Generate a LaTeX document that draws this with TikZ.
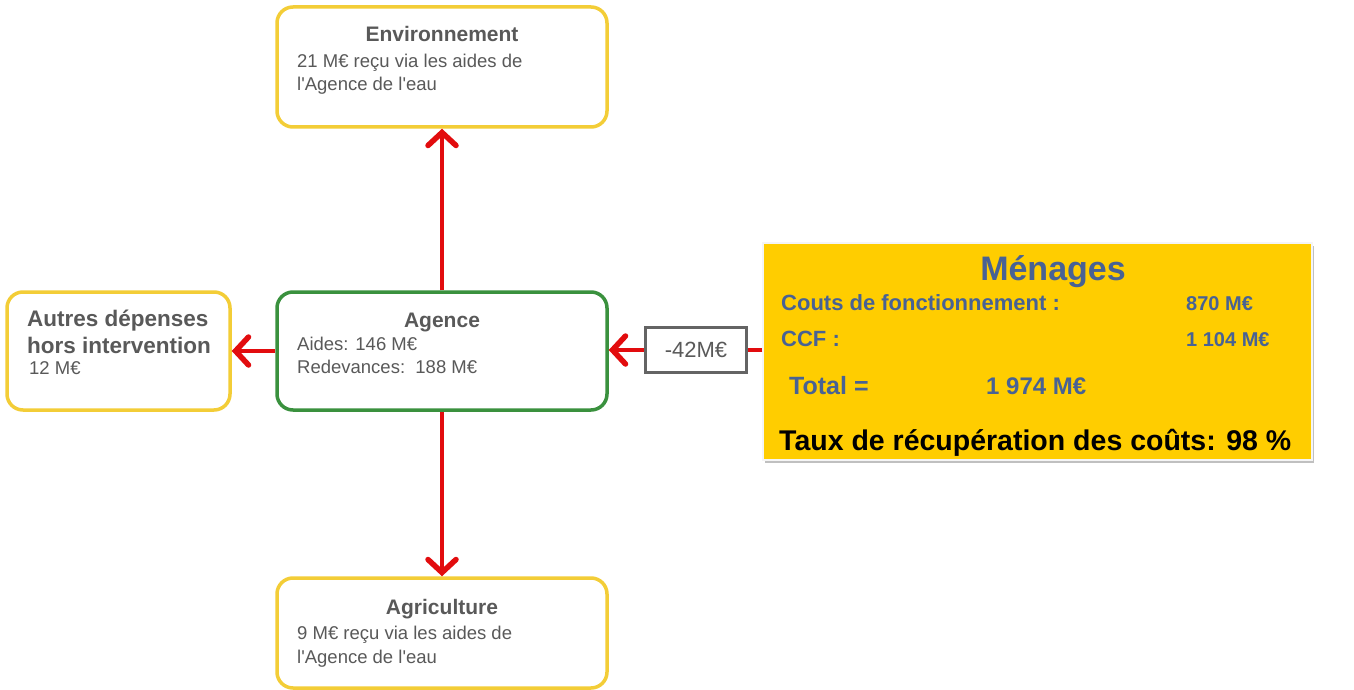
\documentclass[tikz,border=0pt]{standalone}
\usepackage{fontspec}
\setmainfont{Liberation Sans}
\usetikzlibrary{arrows.meta,shadows}

\definecolor{boxyellow}{RGB}{243,205,55}
\definecolor{boxgreen}{RGB}{58,145,62}
\definecolor{txtgray}{RGB}{89,89,89}
\definecolor{arrowred}{RGB}{226,12,14}
\definecolor{panelgold}{RGB}{255,205,0}
\definecolor{panelblue}{RGB}{72,98,148}
\definecolor{tagframe}{RGB}{100,100,100}

\newcommand\fsz[1]{\fontsize{#1}{#1}\selectfont}
\newcommand\apos{\textquotesingle}

\begin{document}
\begin{tikzpicture}[x=1pt,y=-1pt,
  card/.style={draw=boxyellow, line width=3.5pt, rounded corners=16pt, fill=white, inner sep=0pt},
  hub/.style={card, draw=boxgreen},
  panel/.style={fill=panelgold, draw=white!92!gray, line width=1.5pt, inner sep=0pt,
    drop shadow={shadow xshift=2pt, shadow yshift=-3pt, opacity=0.35, fill=black!70}},
  tagbox/.style={draw=tagframe, line width=2.5pt, fill=white, inner sep=0pt, text=txtgray, font=\fsz{22}},
  flow/.style={draw=arrowred, line width=4.5pt,
    -{Straight Barb[length=13pt, width=28pt, line width=5.5pt, line cap=round]}},
  link/.style={draw=arrowred, line width=4.5pt},
  ttl/.style={inner sep=0pt, text=txtgray, font=\bfseries\fsz{21}},
  ttlbig/.style={ttl, font=\bfseries\fsz{22.5}},
  body/.style={inner sep=0pt, text=txtgray, font=\fsz{18.5}},
  ptitle/.style={inner sep=0pt, text=panelblue, font=\bfseries\fsz{34}},
  pline/.style={inner sep=0pt, text=panelblue, font=\bfseries\fsz{22}},
  pval/.style={inner sep=0pt, text=panelblue, font=\bfseries\fsz{20}},
  ptotal/.style={inner sep=0pt, text=panelblue, font=\bfseries\fsz{25}},
  prate/.style={inner sep=0pt, text=black, font=\bfseries\fsz{28.5}}
]
\useasboundingbox (0,0) rectangle (1354,690);
\fill[white] (0,0) rectangle (1354,690);

% boxes
\node[card, minimum width=330pt, minimum height=120pt] (env) at (442,67) {};
\node[card, minimum width=223pt, minimum height=118pt] (other) at (118.5,351) {};
\node[hub, minimum width=330pt, minimum height=118pt] (ag) at (442,351) {};
\node[card, minimum width=330pt, minimum height=110pt] (agri) at (442,633) {};
\node[panel, minimum width=549pt, minimum height=217pt] (men) at (1037.5,351.5) {};
\node[tagbox, minimum width=101pt, minimum height=45pt] (cut) at (696,350) {-42M€};

% connectors
\draw[flow] (ag.north) -- (env.south);
\draw[flow] (ag.south) -- (agri.north);
\draw[flow] (ag.west) -- (other.east);
\draw[link] (cut.east -| men.west) -- (cut.east);
\draw[flow] (cut.west) -- (cut.west -| ag.east);

% Environnement
\node[ttl, anchor=base] (envT) at (442,42) {Environnement};
\node[body, anchor=base west] (envA) at (297,68) {21 M€ reçu via les aides de};
\node[body, anchor=base west] (envB) at (297,91) {l\apos Agence de l\apos eau};

% Autres dépenses
\node[ttlbig, anchor=base west] (othA) at (27,326) {Autres dépenses};
\node[ttlbig, anchor=base west] (othB) at (27,353) {hors intervention};
\node[body, anchor=base west] (othC) at (29,374) {12 M€};

% Agence
\node[ttl, anchor=base] (agT) at (442,327) {Agence};
\node[body, anchor=base west] (agA) at (297,350) {Aides: 146 M€};
\node[body, anchor=base west] (agB) at (297,373) {Redevances:\ \ 188 M€};

% Agriculture
\node[ttl, anchor=base] (agriT) at (442,614) {Agriculture};
\node[body, anchor=base west] (agriA) at (297,639) {9 M€ reçu via les aides de};
\node[body, anchor=base west] (agriB) at (297,663) {l\apos Agence de l\apos eau};

% Ménages
\node[ptitle, anchor=base] (menT) at (1053,280) {Ménages};
\node[pline, anchor=base west] (menA) at (781,310) {Couts de fonctionnement :};
\node[pval, anchor=base west] (menAv) at (1186,310) {870 M€};
\node[pline, anchor=base west] (menB) at (781,346) {CCF :};
\node[pval, anchor=base west] (menBv) at (1186,346) {1 104 M€};
\node[ptotal, anchor=base west] (menC) at (789,394) {Total =};
\node[ptotal, anchor=base west, font=\bfseries\fsz{24}] (menCv) at (986,394) {1 974 M€};
\node[prate, anchor=base west] (menD) at (779,450) {Taux de récupération des coûts: 98 \%};
\end{tikzpicture}
\end{document}
